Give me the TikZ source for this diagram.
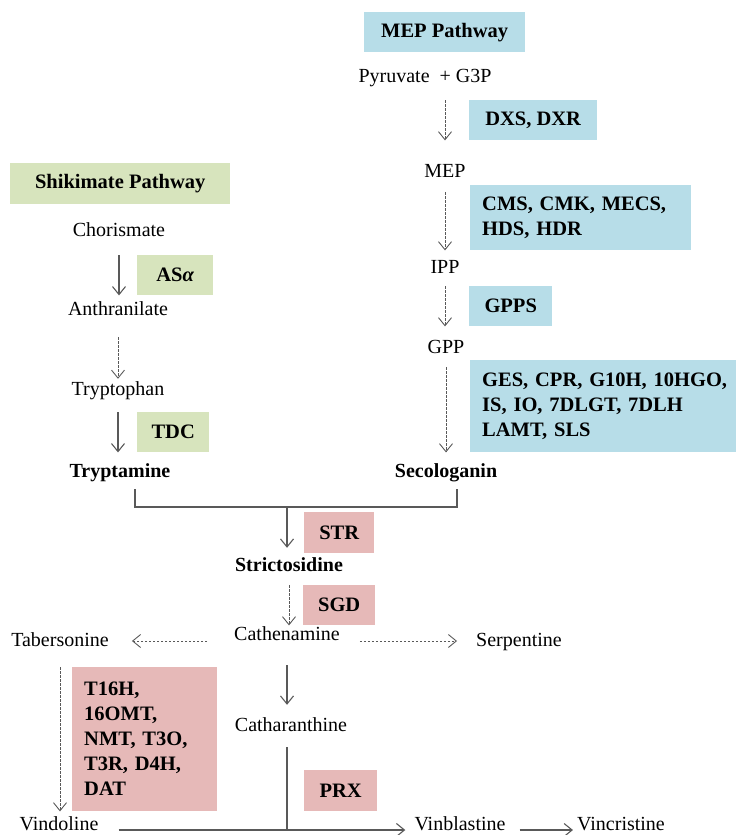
\documentclass[tikz,border=0pt]{standalone}
\usepackage{fontspec}
\setmainfont{Liberation Serif}
\usetikzlibrary{arrows.meta,positioning}

\definecolor{mepblue}{HTML}{B7DDE8}
\definecolor{shikgreen}{HTML}{D7E4BD}
\definecolor{tiapink}{HTML}{E6B9B8}
\definecolor{arrgray}{HTML}{595959}

\tikzset{
  chem/.style={inner sep=0pt, text height=14pt, text depth=4pt, font=\fontsize{20}{25}\selectfont},
  keychem/.style={chem, font=\fontsize{20}{25}\selectfont\bfseries},
  enzbox/.style={anchor=north west, inner xsep=12pt, inner ysep=0pt, font=\fontsize{20.5}{25}\selectfont\bfseries},
  mepenz/.style={enzbox, fill=mepblue},
  shikenz/.style={enzbox, fill=shikgreen},
  tiaenz/.style={enzbox, fill=tiapink},
  rxn/.style={color=arrgray, line width=1.1pt, -{Straight Barb[length=8pt,width=13pt]}},
  multistep/.style={rxn, line width=0.9pt, dash pattern=on 2.5pt off 1.5pt},
  joinline/.style={draw=arrgray, line width=1.1pt},
}

\begin{document}
\begin{tikzpicture}[x=1pt, y=-1pt]
    \useasboundingbox (0,0) rectangle (736,835);

    % pathway headers
    \node[mepenz, minimum width=161pt, minimum height=40pt] (mephead) at (364,12) {MEP Pathway};
    \node[shikenz, minimum width=220pt, minimum height=41pt] (shikhead) at (10,163) {Shikimate Pathway};

    % MEP branch
    \node[chem] (pyr) at (425,77) {Pyruvate\ \ + G3P};
    \node[chem] (mep) at (445,172) {MEP};
    \node[chem] (ipp) at (445,268) {IPP};
    \node[chem] (gpp) at (446,348) {GPP};
    \node[keychem] (seco) at (446,472) {Secologanin};
    \node[mepenz, minimum width=128pt, minimum height=40pt] (dxs) at (469,100) {DXS, DXR};
    \node[mepenz, text width=197pt, align=left, minimum height=65pt] (cms) at (470,185) {CMS, CMK, MECS,\\ HDS, HDR};
    \node[mepenz, minimum width=83pt, minimum height=40pt] (gpps) at (469,286) {GPPS};
    \node[mepenz, text width=242pt, align=left, minimum height=92pt] (ges) at (470,360) {\mbox{GES, CPR, G10H, 10HGO,}\\ IS, IO, 7DLGT, 7DLH\\ LAMT, SLS};

    % shikimate branch
    \node[chem] (chor) at (119,231) {Chorismate};
    \node[chem] (anth) at (118,310) {Anthranilate};
    \node[chem] (trpn) at (118,390) {Tryptophan};
    \node[keychem] (trya) at (120,472) {Tryptamine};
    \node[shikenz, minimum width=76pt, minimum height=40pt] (asa) at (137,255) {AS\textit{α}};
    \node[shikenz, minimum width=72pt, minimum height=40pt] (tdc) at (137,412) {TDC};

    % TIA branch
    \coordinate (join) at (287,507);
    \node[keychem] (strict) at (289,566) {Strictosidine};
    \node[chem] (cath) at (287,635) {Cathenamine};
    \node[chem] (taber) at (60,641) {Tabersonine};
    \node[chem] (serp) at (519,641) {Serpentine};
    \node[chem] (catha) at (291,726) {Catharanthine};
    \node[chem] (vind) at (59,825) {Vindoline};
    \node[chem] (vinb) at (460,825) {Vinblastine};
    \node[chem] (vinc) at (621,825) {Vincristine};
    \node[tiaenz, minimum width=70pt, minimum height=41pt] (str) at (304,512) {STR};
    \node[tiaenz, minimum width=72pt, minimum height=40pt] (sgd) at (303,585) {SGD};
    \node[tiaenz, text width=121pt, align=left, minimum height=144pt] (t16h) at (72,667) {T16H,\\ 16OMT,\\ NMT, T3O,\\ T3R, D4H,\\ DAT};
    \node[tiaenz, minimum width=73pt, minimum height=41pt] (prx) at (304,770) {PRX};

    \path[multistep]
    (mep |- dxs.north) edge (mep |- dxs.south)
    (mep |- cms.north) edge[shorten <=7pt] (mep |- cms.south)
    (ipp |- gpps.north) edge (ipp |- gpps.south)
    (gpp |- ges.north) edge[shorten <=7pt] (gpp |- ges.south)
    (anth.south) edge[shorten <=18pt, shorten >=2pt] (trpn.north)
    (strict |- sgd.north) edge (strict |- sgd.south)
    (cath.west |- taber) edge[shorten <=27pt, shorten >=23pt] (taber.east)
    (cath.east |- serp) edge[shorten <=20pt, shorten >=19pt] (serp.west)
    (taber |- t16h.north) edge (taber |- t16h.south);

    \path[rxn]
    (chor |- asa.north) edge (chor |- asa.south)
    (trpn |- tdc.north) edge (trpn |- tdc.south)
    (join) edge[shorten >=9pt] (join |- strict.north)
    (cath.south) edge[shorten <=21pt, shorten >=12pt] (cath.south |- catha.north)
    (vind.base east) edge[shorten <=20pt, shorten >=9pt] (vinb.base west)
    (vinb.base east) edge[shorten <=14pt, shorten >=4pt] (vinc.base west);

    \draw[joinline] ([xshift=15pt, yshift=-8pt]trya.south) |- (join) -| ([xshift=11pt, yshift=-8pt]seco.south);
    \draw[joinline, shorten <=12pt] (join |- catha.south) -- (join |- vinb.base west);
\end{tikzpicture}
\end{document}
